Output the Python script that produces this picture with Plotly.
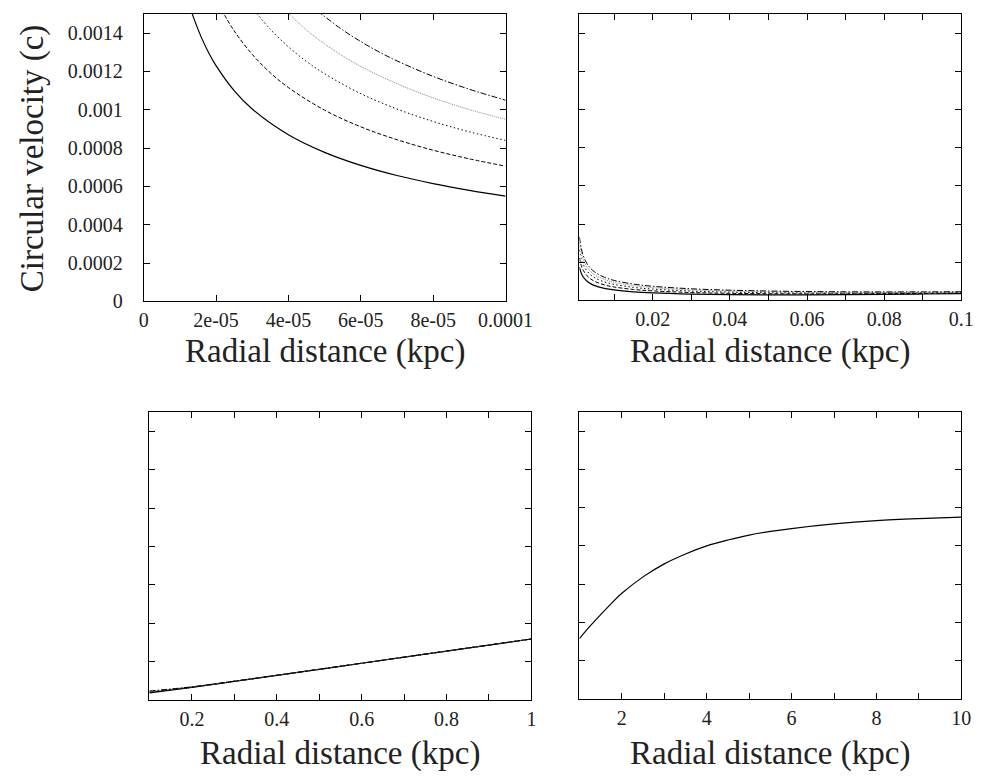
import plotly.graph_objects as go

# ---------------- data ----------------
# Top-left panel: r in kpc, v in units of c
tl_x_solid = [1.3e-5, 1.4e-5, 1.6e-5, 1.8e-5, 2e-5, 2.5e-5, 3e-5, 4e-5, 5e-5, 6e-5, 7e-5, 8e-5, 9e-5, 1e-4]
tl_v_solid = [1.525e-3, 1.470e-3, 1.375e-3, 1.296e-3, 1.230e-3, 1.100e-3, 1.004e-3, 0.870e-3, 0.778e-3, 0.710e-3, 0.657e-3, 0.615e-3, 0.580e-3, 0.550e-3]
tl_x_dash = [2.15e-5, 2.5e-5, 3e-5, 3.5e-5, 4e-5, 5e-5, 6e-5, 7e-5, 8e-5, 9e-5, 1e-4]
tl_v_dash = [1.523e-3, 1.412e-3, 1.289e-3, 1.193e-3, 1.116e-3, 0.998e-3, 0.911e-3, 0.844e-3, 0.789e-3, 0.744e-3, 0.706e-3]
tl_x_dot = [3.05e-5, 3.5e-5, 4e-5, 4.5e-5, 5e-5, 6e-5, 7e-5, 8e-5, 9e-5, 1e-4]
tl_v_dot = [1.521e-3, 1.420e-3, 1.328e-3, 1.252e-3, 1.188e-3, 1.084e-3, 1.004e-3, 0.939e-3, 0.885e-3, 0.840e-3]
tl_x_gray = [3.9e-5, 4.5e-5, 5e-5, 5.5e-5, 6e-5, 7e-5, 8e-5, 9e-5, 1e-4]
tl_v_gray = [1.521e-3, 1.416e-3, 1.343e-3, 1.281e-3, 1.226e-3, 1.136e-3, 1.062e-3, 1.001e-3, 0.950e-3]
tl_x_dd = [4.8e-5, 5.5e-5, 6e-5, 6.5e-5, 7e-5, 8e-5, 9e-5, 1e-4]
tl_v_dd = [1.516e-3, 1.416e-3, 1.356e-3, 1.302e-3, 1.255e-3, 1.174e-3, 1.107e-3, 1.050e-3]

# Top-right panel
tr_x = [0.001, 0.0015, 0.002, 0.003, 0.004, 0.005, 0.0075, 0.01, 0.015, 0.02, 0.03, 0.04, 0.05, 0.06, 0.07, 0.08, 0.09, 0.1]
tr_v_solid = [173.9e-6, 142.0e-6, 123.0e-6, 100.4e-6, 87.0e-6, 77.8e-6, 63.5e-6, 55.1e-6, 45.2e-6, 39.4e-6, 33.2e-6, 30.3e-6, 29.3e-6, 29.4e-6, 30.4e-6, 32.0e-6, 33.9e-6, 36.2e-6]
tr_v_dash = [223.3e-6, 182.3e-6, 157.9e-6, 128.9e-6, 111.6e-6, 99.8e-6, 81.5e-6, 70.7e-6, 57.8e-6, 50.3e-6, 41.9e-6, 37.5e-6, 35.4e-6, 34.5e-6, 34.7e-6, 35.6e-6, 37.0e-6, 38.8e-6]
tr_v_dot = [265.6e-6, 216.9e-6, 187.8e-6, 153.4e-6, 132.8e-6, 118.8e-6, 97.0e-6, 84.1e-6, 68.8e-6, 59.7e-6, 49.4e-6, 43.9e-6, 40.8e-6, 39.2e-6, 38.7e-6, 39.1e-6, 40.0e-6, 41.4e-6]
tr_v_gray = [300.4e-6, 245.3e-6, 212.4e-6, 173.4e-6, 150.2e-6, 134.3e-6, 109.7e-6, 95.1e-6, 77.9e-6, 67.5e-6, 55.7e-6, 49.2e-6, 45.4e-6, 43.2e-6, 42.2e-6, 42.1e-6, 42.6e-6, 43.6e-6]
tr_v_dd = [332.0e-6, 271.1e-6, 234.8e-6, 191.7e-6, 166.0e-6, 148.5e-6, 121.2e-6, 105.0e-6, 86.0e-6, 74.5e-6, 61.3e-6, 54.0e-6, 49.6e-6, 46.9e-6, 45.5e-6, 44.9e-6, 45.2e-6, 45.9e-6]

# Bottom-left panel
bl_x = [0.1, 0.2, 0.3, 0.4, 0.5, 0.6, 0.7, 0.8, 0.9, 1.0]
bl_v_solid = [36.2e-6, 64.6e-6, 95.6e-6, 127.1e-6, 158.7e-6, 190.3e-6, 222.0e-6, 253.7e-6, 285.4e-6, 317.0e-6]
bl_v_dash = [38.8e-6, 65.3e-6, 96.0e-6, 127.3e-6, 158.8e-6, 190.4e-6, 222.1e-6, 253.7e-6, 285.4e-6, 317.1e-6]
bl_v_dot = [41.4e-6, 66.1e-6, 96.3e-6, 127.5e-6, 158.9e-6, 190.5e-6, 222.1e-6, 253.8e-6, 285.4e-6, 317.1e-6]
bl_v_gray = [43.6e-6, 66.9e-6, 96.7e-6, 127.7e-6, 159.1e-6, 190.6e-6, 222.2e-6, 253.8e-6, 285.5e-6, 317.1e-6]
bl_v_dd = [45.9e-6, 67.6e-6, 97.0e-6, 127.9e-6, 159.2e-6, 190.7e-6, 222.3e-6, 253.9e-6, 285.5e-6, 317.2e-6]

# Bottom-right panel
br_x = [1, 1.25, 1.5, 1.75, 2, 2.5, 3, 3.5, 4, 4.5, 5, 5.5, 6, 7, 8, 9, 10]
br_v = [315e-6, 380e-6, 440e-6, 498e-6, 552e-6, 638e-6, 706e-6, 758e-6, 800e-6, 831e-6, 857e-6, 876e-6, 891e-6, 915e-6, 932e-6, 943e-6, 951e-6]

# tick labels
y_tickvals = [0, 0.0002, 0.0004, 0.0006, 0.0008, 0.001, 0.0012, 0.0014]
y_ticktext = ["0", "0.0002", "0.0004", "0.0006", "0.0008", "0.001", "0.0012", "0.0014"]
tl_tickvals = [0, 2e-5, 4e-5, 6e-5, 8e-5, 1e-4]
tl_ticktext = ["0", "2e-05", "4e-05", "6e-05", "8e-05", "0.0001"]
tr_tickvals = [0.01, 0.02, 0.03, 0.04, 0.05, 0.06, 0.07, 0.08, 0.09, 0.1]
tr_ticktext = ["", "0.02", "", "0.04", "", "0.06", "", "0.08", "", "0.1"]
bl_tickvals = [0.2, 0.3, 0.4, 0.5, 0.6, 0.7, 0.8, 0.9, 1.0]
bl_ticktext = ["0.2", "", "0.4", "", "0.6", "", "0.8", "", "1"]
br_tickvals = [2, 3, 4, 5, 6, 7, 8, 9, 10]
br_ticktext = ["2", "", "4", "", "6", "", "8", "", "10"]

x_title = "Radial distance (kpc)"
y_title = "Circular velocity (c)"

# ---------------- styles ----------------
FONT = "Liberation Serif, Times New Roman, serif"
styles = [
    dict(color="black", width=1.2, dash="solid"),
    dict(color="black", width=1.0, dash="4px,2px"),
    dict(color="black", width=1.0, dash="1.5px,2.5px"),
    dict(color="#777777", width=0.9, dash="1px,1px"),
    dict(color="black", width=1.0, dash="6px,2px,1.5px,2px"),
]

fig = go.Figure()

def add(xs, ys, k, xa, ya):
    fig.add_trace(go.Scatter(x=xs, y=ys, mode="lines", line=dict(shape="spline", **styles[k]),
                             xaxis=xa, yaxis=ya, showlegend=False, hoverinfo="skip"))

for k, (xs, ys) in enumerate([(tl_x_solid, tl_v_solid), (tl_x_dash, tl_v_dash), (tl_x_dot, tl_v_dot),
                              (tl_x_gray, tl_v_gray), (tl_x_dd, tl_v_dd)]):
    add(xs, ys, k, "x", "y")
for k, ys in enumerate([tr_v_solid, tr_v_dash, tr_v_dot, tr_v_gray, tr_v_dd]):
    add(tr_x, ys, k, "x2", "y2")
for k, ys in enumerate([bl_v_solid, bl_v_dash, bl_v_dot, bl_v_gray, bl_v_dd]):
    add(bl_x, ys, k, "x3", "y3")
add(br_x, br_v, 0, "x4", "y4")

W, H = 991, 776

def px_dom_x(a, b):
    return [a / W, b / W]

def px_dom_y(top, bottom):
    return [1 - bottom / H, 1 - top / H]

common = dict(showline=True, linecolor="black", linewidth=1, mirror="ticks", ticks="inside",
              ticklen=6, tickcolor="black", tickwidth=1, showgrid=False, zeroline=False,
              tickfont=dict(family=FONT, size=20, color="#222222"))

fig.update_layout(
    width=W, height=H,
    margin=dict(l=0, r=0, t=0, b=0),
    paper_bgcolor="white", plot_bgcolor="white",
    showlegend=False,
    xaxis=dict(domain=px_dom_x(135, 509), range=[0, 1e-4], tickvals=tl_tickvals, ticktext=tl_ticktext,
               anchor="y", ticklabelstandoff=1, **common),
    yaxis=dict(domain=px_dom_y(6, 297.7), range=[0, 0.0015], tickvals=y_tickvals, ticktext=y_ticktext,
               anchor="x", ticklabelstandoff=16, **common),
    xaxis2=dict(domain=px_dom_x(585.3, 980), range=[0.001, 0.1], tickvals=tr_tickvals, ticktext=tr_ticktext,
                anchor="y2", ticklabelstandoff=1, **common),
    yaxis2=dict(domain=px_dom_y(6, 296.7), range=[0, 0.0015], tickvals=y_tickvals, showticklabels=False,
                anchor="x2", **common),
    xaxis3=dict(domain=px_dom_x(141, 535.7), range=[0.1, 1], tickvals=bl_tickvals, ticktext=bl_ticktext,
                anchor="y3", ticklabelstandoff=1, **common),
    yaxis3=dict(domain=px_dom_y(410, 701.7), range=[0, 0.0015], tickvals=y_tickvals, showticklabels=False,
                anchor="x3", **common),
    xaxis4=dict(domain=px_dom_x(585.3, 980), range=[1, 10], tickvals=br_tickvals, ticktext=br_ticktext,
                anchor="y4", ticklabelstandoff=1, **common),
    yaxis4=dict(domain=px_dom_y(410, 700.7), range=[0, 0.0015], tickvals=y_tickvals, showticklabels=False,
                anchor="x4", **common),
)

tfont = dict(family=FONT, size=33, color="#222222")
for cx, cy in [(322, 348), (782.6, 348), (338.4, 756), (782.6, 756)]:
    fig.add_annotation(text=x_title, x=cx / W, y=1 - cy / H, xref="paper", yref="paper",
                       xanchor="center", yanchor="middle", showarrow=False, font=tfont)
fig.add_annotation(text=y_title, x=20 / W, y=1 - 152 / H, xref="paper", yref="paper", textangle=-90,
                   xanchor="center", yanchor="middle", showarrow=False, font=tfont)

fig.write_html("out.html")
